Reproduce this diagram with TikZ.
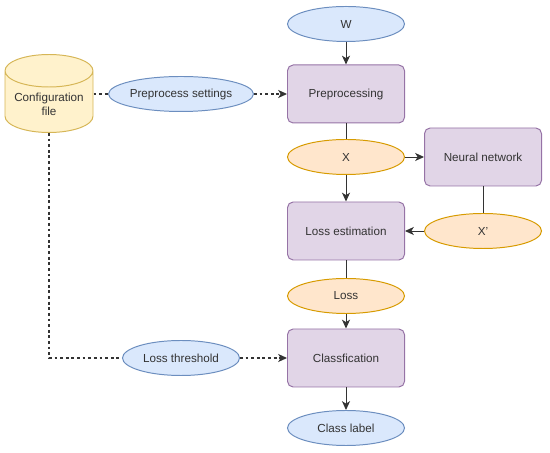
\documentclass[tikz,border=0pt]{standalone}
\usepackage{fontspec}
\setmainfont{Liberation Sans}
\usetikzlibrary{arrows.meta, shapes.geometric}
\definecolor{blfill}{HTML}{DAE8FC}
\definecolor{bldraw}{HTML}{6C8EBF}
\definecolor{orfill}{HTML}{FFE6CC}
\definecolor{ordraw}{HTML}{D79B00}
\definecolor{yefill}{HTML}{FFF2CC}
\definecolor{yedraw}{HTML}{D6B656}
\definecolor{pufill}{HTML}{E1D5E7}
\definecolor{pudraw}{HTML}{9673A6}
\definecolor{txt}{HTML}{333333}

\begin{document}
\begin{tikzpicture}[
  >={Stealth[length=2.2mm, width=2mm, inset=0.6mm]},
  every node/.style={font=\fontsize{8.3}{10}\selectfont, text=txt},
  procbox/.style={rectangle, rounded corners=4pt, fill=pufill, draw=pudraw,
    line width=0.7pt, minimum width=2.925cm, minimum height=1.45cm},
  bluedata/.style={ellipse, fill=blfill, draw=bldraw, line width=0.7pt,
    minimum width=2.925cm, minimum height=0.875cm, inner sep=0pt},
  orangedata/.style={ellipse, fill=orfill, draw=ordraw, line width=0.7pt,
    minimum width=2.925cm, minimum height=0.875cm, inner sep=0pt},
  flow/.style={txt, line width=0.7pt},
  setting/.style={txt, line width=0.8pt, dash pattern=on 2pt off 2pt},
]

% Canvas
\useasboundingbox (0,0) rectangle (13.75,11.325);

% === Main column ===
\node[bluedata] (w) at (8.65,10.725) {W};
\node[procbox] (prep) at (8.65,8.975) {Preprocessing};
\node[orangedata] (x) at (8.65,7.4) {X};
\node[procbox] (lossest) at (8.65,5.55) {Loss estimation};
\node[orangedata] (loss) at (8.65,3.925) {Loss};
\node[procbox] (classif) at (8.65,2.375) {Classfication};
\node[bluedata] (label) at (8.65,0.625) {Class label};

% === Network branch ===
\node[procbox] (nn) at (12.075,7.4) {Neural network};
\node[orangedata] (xrec) at (12.075,5.55) {X'};

% === Configuration ===
\node[cylinder, shape border rotate=90, aspect=0.45, fill=yefill, draw=yedraw,
  line width=0.7pt, minimum width=2.2cm, minimum height=1.95cm, align=center,
  inner sep=1pt, anchor=bottom] (config) at (1.225,8.0) {Configuration\\file};
\node[bluedata] (prepset) at (4.525,8.975) {Preprocess settings};
\node[bluedata] (thresh) at (4.525,2.375) {Loss threshold};

% Data flow
\draw[flow, ->] (w) -- (prep);
\draw[flow] (prep) -- (x);
\draw[flow, ->] (x) -- (lossest);
\draw[flow, ->] (x) -- (nn);
\draw[flow] (nn) -- (xrec);
\draw[flow, ->] (xrec) -- (lossest);
\draw[flow] (lossest) -- (loss);
\draw[flow, ->] (loss) -- (classif);
\draw[flow, ->] (classif) -- (label);

% Settings from the file
\draw[setting] (prepset -| config.east) -- (prepset);
\draw[setting, ->] (prepset) -- (prep);
\draw[setting] (config.bottom) |- (thresh);
\draw[setting, ->] (thresh) -- (classif);

\end{tikzpicture}
\end{document}
